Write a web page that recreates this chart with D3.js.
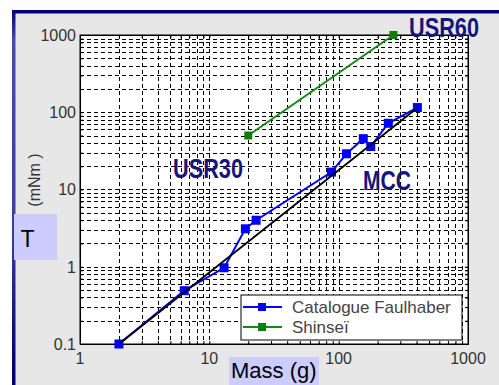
<!DOCTYPE html>
<html><head><meta charset="utf-8">
<script src="https://cdn.jsdelivr.net/npm/d3@7"></script>
<style>body{margin:0;background:#fff}svg{display:block}</style>
</head><body>
<script>
const faulMass   = [2, 6.4, 13, 19, 23, 88, 115, 155, 177, 242, 406];
const faulTorque = [0.1, 0.49, 0.97, 3.1, 4.0, 16.8, 29, 45.5, 36, 72, 115];
const shinMass   = [20, 265];
const shinTorque = [50, 1000];
const fitMass    = [2, 400];
const fitTorque  = [0.1, 112];
const xTicks = [1, 10, 100, 1000];
const xTickLabels = ["1", "10", "100", "1000"];
const yTicks = [0.1, 1, 10, 100, 1000];
const yTickLabels = ["0.1", "1", "10", "100", "1000"];
const seriesNames = ["Catalogue Faulhaber", "Shinseï"];
const annotations = [
  {text: "USR60", m: 265, t: 1000},
  {text: "USR30", m: 19, t: 3.1},
  {text: "MCC", m: 88, t: 16.8}
];

const W = 499, H = 385;
const svg = d3.select("body").append("svg").attr("width", W).attr("height", H);
const defs = svg.append("defs");
const grad = defs.append("linearGradient").attr("id","lb").attr("x1",0).attr("y1",0).attr("x2",0).attr("y2",1);
grad.append("stop").attr("offset","0").attr("stop-color","#000080");
grad.append("stop").attr("offset","0.08").attr("stop-color","#4a4aa8");
grad.append("stop").attr("offset","0.6").attr("stop-color","#3c3ca0");
grad.append("stop").attr("offset","0.85").attr("stop-color","#10107a");
grad.append("stop").attr("offset","1").attr("stop-color","#000070");

svg.append("rect").attr("x",0).attr("y",0).attr("width",W).attr("height",H).attr("fill","#fff");
svg.append("rect").attr("x",12).attr("y",10).attr("width",W-12).attr("height",H-10).attr("fill","#e7e7e7");
svg.append("rect").attr("x",12).attr("y",10).attr("width",W-12).attr("height",3.5).attr("fill","#000078");
svg.append("rect").attr("x",12).attr("y",10).attr("width",3.5).attr("height",H-10).attr("fill","url(#lb)");

const x = d3.scaleLog().domain([1,1000]).range([80,468]);
const y = d3.scaleLog().domain([0.1,1000]).range([344,35]);
const x0 = 80, x1 = 468, y0 = 344, y1 = 35;

svg.append("rect").attr("x",x0).attr("y",y1).attr("width",x1-x0).attr("height",y0-y1).attr("fill","#fff");

// grid
const gx = [], gy = [];
for (let k = 0; k < 3; k++) for (let d = 1; d <= 9; d++) gx.push(d*Math.pow(10,k));
for (let k = -1; k < 3; k++) for (let d = 1; d <= 9; d++) gy.push(d*Math.pow(10,k));
const grid = svg.append("g").attr("stroke","#000").attr("stroke-width",1).attr("stroke-dasharray","4,3");
grid.selectAll(".gx").data(gx.filter(v=>v>1)).enter().append("line")
  .attr("x1",d=>Math.round(x(d))+0.5).attr("x2",d=>Math.round(x(d))+0.5).attr("y1",y1).attr("y2",y0);
grid.selectAll(".gy").data(gy.filter(v=>v>0.1)).enter().append("line")
  .attr("y1",d=>Math.round(y(d))+0.5).attr("y2",d=>Math.round(y(d))+0.5).attr("x1",x0).attr("x2",x1);

// axes (ticks inward)
const axB = d3.axisBottom(x).tickValues(gx.concat([1000])).tickSize(-3).tickFormat("");
const axL = d3.axisLeft(y).tickValues(gy.concat([1000])).tickSize(-3).tickFormat("");
const axR = d3.axisRight(y).tickValues(gy.concat([1000])).tickSize(-3).tickFormat("");
const axT = d3.axisTop(x).tickValues(gx.concat([1000])).tickSize(-3).tickFormat("");
[[axB,`translate(0,${y0})`],[axL,`translate(${x0},0)`],[axR,`translate(${x1},0)`],[axT,`translate(0,${y1})`]].forEach(([a,t])=>{
  const g = svg.append("g").attr("transform",t).call(a);
  g.selectAll("path,line").attr("stroke","#000");
});
svg.append("rect").attr("x",x0).attr("y",y1).attr("width",x1-x0).attr("height",y0-y1).attr("fill","none").attr("stroke","#000").attr("stroke-width",1);

// tick labels
const lblFont = "'Liberation Sans', Arial, sans-serif";
svg.selectAll(".yl").data(yTicks).enter().append("text")
  .attr("x",76).attr("y",d=>y(d)).attr("dy","0.36em").attr("text-anchor","end")
  .attr("font-family",lblFont).attr("font-size",16).attr("fill","#333")
  .text((d,i)=>yTickLabels[i]);
svg.selectAll(".xl").data(xTicks).enter().append("text")
  .attr("x",d=>x(d)).attr("y",364).attr("text-anchor","middle")
  .attr("font-family",lblFont).attr("font-size",16).attr("fill","#333")
  .text((d,i)=>xTickLabels[i]);

const line = d3.line().x((d)=>x(d[0])).y(d=>y(d[1]));

// Faulhaber
const fData = d3.zip(faulMass,faulTorque);
svg.append("path").datum(fData).attr("d",line).attr("fill","none").attr("stroke","#0000ff").attr("stroke-width",2);
svg.selectAll(".fm").data(fData).enter().append("rect")
  .attr("x",d=>x(d[0])-4.5).attr("y",d=>y(d[1])-4.5).attr("width",9).attr("height",9).attr("fill","#0000ff");

// fit line (on top)
svg.append("path").datum(d3.zip(fitMass,fitTorque)).attr("d",line)
  .attr("fill","none").attr("stroke","#000").attr("stroke-width",1.8);

// Shinsei
const sData = d3.zip(shinMass,shinTorque);
svg.append("path").datum(sData).attr("d",line).attr("fill","none").attr("stroke","#138a13").attr("stroke-width",2);
svg.selectAll(".sm").data(sData).enter().append("rect")
  .attr("x",d=>x(d[0])-4).attr("y",d=>y(d[1])-4).attr("width",8).attr("height",8).attr("fill","#0a800a");

// annotations
const annPos = {USR60:[409,37,70], USR30:[173,178,70], MCC:[363,190,48]};
annotations.forEach(a=>{
  const p = annPos[a.text];
  svg.append("text").attr("x",p[0]).attr("y",p[1])
    .attr("font-family",lblFont).attr("font-weight","bold").attr("font-size",27)
    .attr("textLength",p[2]).attr("lengthAdjust","spacingAndGlyphs")
    .attr("fill","#16167a").text(a.text);
});

// legend
const lg = svg.append("g");
lg.append("rect").attr("x",241).attr("y",295).attr("width",221).attr("height",45).attr("fill","#fff").attr("stroke","#000").attr("stroke-width",1);
const legCol = [["#0000ff","#0000ff"],["#138a13","#0a800a"]];
seriesNames.forEach((n,i)=>{
  const cy = 307 + i*20;
  lg.append("line").attr("x1",243).attr("x2",282).attr("y1",cy).attr("y2",cy).attr("stroke",legCol[i][0]).attr("stroke-width",2);
  lg.append("rect").attr("x",258).attr("y",cy-4).attr("width",8).attr("height",8).attr("fill",legCol[i][1]);
  lg.append("text").attr("x",292).attr("y",cy+6).attr("font-family",lblFont).attr("font-size",17).attr("fill","#444").text(n);
});

// axis titles
svg.append("text").attr("transform","translate(40,180) rotate(-90)").attr("text-anchor","middle")
  .attr("font-family",lblFont).attr("font-size",16).attr("fill","#333").text("(mNm )");
svg.append("rect").attr("x",14).attr("y",214).attr("width",43).attr("height",46).attr("fill","#ccccff");
svg.append("text").attr("x",27.5).attr("y",247).attr("text-anchor","middle")
  .attr("font-family",lblFont).attr("font-size",23).attr("fill","#000").text("T");
svg.append("rect").attr("x",229).attr("y",357).attr("width",90).attr("height",28).attr("fill","#ccccff");
svg.append("text").attr("x",231).attr("y",378)
  .attr("font-family",lblFont).attr("font-size",22).attr("fill","#000").text("Mass (g)");
</script>
</body></html>
